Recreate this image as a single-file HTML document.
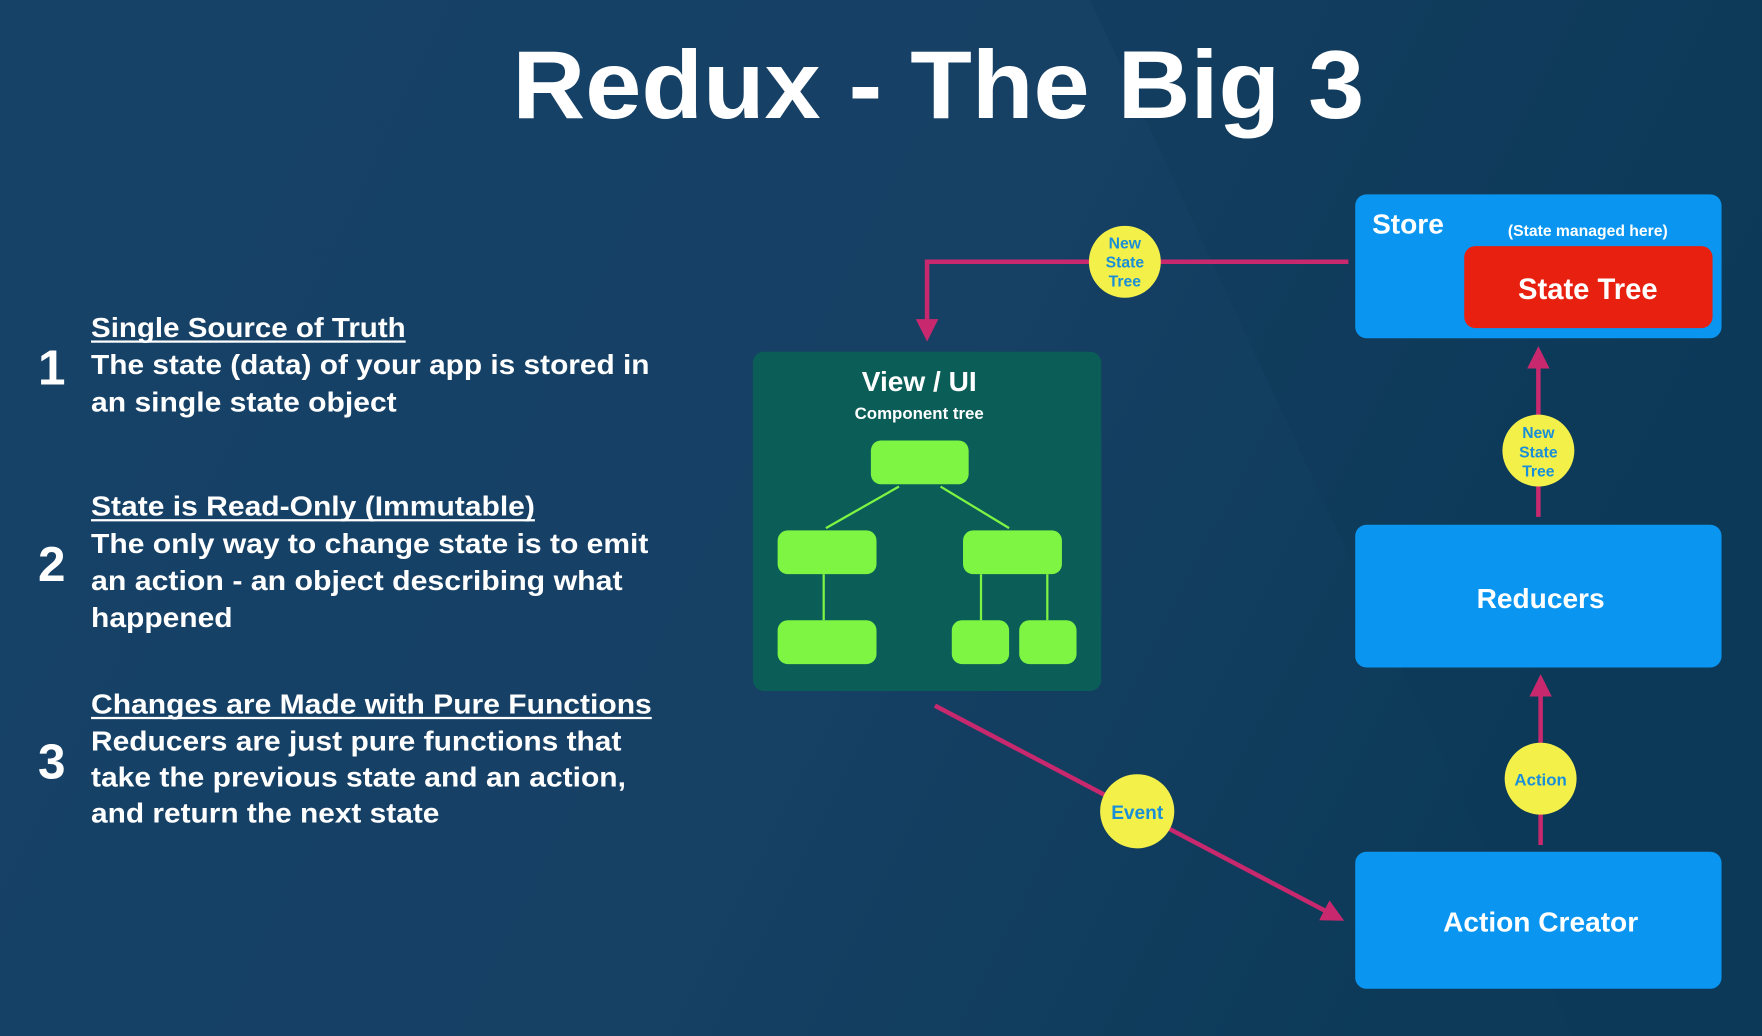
<!DOCTYPE html>
<html><head><meta charset="utf-8"><style>html,body{margin:0;padding:0;background:#163f60}svg{display:block}</style></head>
<body>
<svg width="1762" height="1036" viewBox="0 0 1568 922" preserveAspectRatio="none" xmlns="http://www.w3.org/2000/svg" font-family="'Liberation Sans', sans-serif" font-weight="bold">
<defs>
<linearGradient id="bg" x1="0" y1="0" x2="1" y2="0.3">
<stop offset="0" stop-color="#174268"/><stop offset="0.6" stop-color="#164064"/><stop offset="1" stop-color="#0c3a58"/>
</linearGradient>
<marker id="ah" viewBox="0 0 10 10" refX="2" refY="5" markerWidth="5" markerHeight="5" orient="auto"><path d="M0,0 L10,5 L0,10 z" fill="#c8296e"/></marker>
</defs>
<rect width="1568" height="922" fill="url(#bg)"/>
<polygon points="970,0 1568,0 1568,922 1400,922" fill="#0d3a58" opacity="0.35"/>
<text x="835" y="105" text-anchor="middle" font-size="86" fill="#fff" textLength="758" lengthAdjust="spacingAndGlyphs">Redux - The Big 3</text>

<g fill="#fff">
<text x="46" y="342" text-anchor="middle" font-size="44">1</text>
<text x="46" y="517" text-anchor="middle" font-size="44">2</text>
<text x="46" y="693" text-anchor="middle" font-size="44">3</text>
<g font-size="25">
<text x="81" y="300" textLength="280" lengthAdjust="spacingAndGlyphs">Single Source of Truth</text>
<text x="81" y="333" textLength="497" lengthAdjust="spacingAndGlyphs">The state (data) of your app is stored in</text>
<text x="81" y="366" textLength="272" lengthAdjust="spacingAndGlyphs">an single state object</text>
<text x="81" y="459" textLength="395" lengthAdjust="spacingAndGlyphs">State is Read-Only (Immutable)</text>
<text x="81" y="492" textLength="496" lengthAdjust="spacingAndGlyphs">The only way to change state is to emit</text>
<text x="81" y="525" textLength="473" lengthAdjust="spacingAndGlyphs">an action - an object describing what</text>
<text x="81" y="558" textLength="126" lengthAdjust="spacingAndGlyphs">happened</text>
<text x="81" y="635" textLength="499" lengthAdjust="spacingAndGlyphs">Changes are Made with Pure Functions</text>
<text x="81" y="668" textLength="472" lengthAdjust="spacingAndGlyphs">Reducers are just pure functions that</text>
<text x="81" y="700" textLength="476" lengthAdjust="spacingAndGlyphs">take the previous state and an action,</text>
<text x="81" y="732" textLength="310" lengthAdjust="spacingAndGlyphs">and return the next state</text>
</g>
<rect x="81" y="303" width="280" height="2"/>
<rect x="81" y="462" width="395" height="2"/>
<rect x="81" y="638" width="499" height="2"/>
</g>

<rect x="670" y="313" width="310" height="302" rx="10" fill="#0b5e57"/>
<text x="818" y="348" text-anchor="middle" font-size="25" fill="#fff">View / UI</text>
<text x="818" y="373" text-anchor="middle" font-size="15" fill="#fff">Component tree</text>
<g stroke="#7ef542" stroke-width="2">
<line x1="800" y1="433" x2="735" y2="470"/><line x1="837" y1="433" x2="898" y2="470"/>
<line x1="733" y1="511" x2="733" y2="552"/><line x1="873" y1="511" x2="873" y2="552"/><line x1="932" y1="511" x2="932" y2="552"/>
</g>
<g fill="#7ef542">
<rect x="775" y="392" width="87" height="39" rx="9"/>
<rect x="692" y="472" width="88" height="39" rx="9"/>
<rect x="857" y="472" width="88" height="39" rx="9"/>
<rect x="692" y="552" width="88" height="39" rx="9"/>
<rect x="847" y="552" width="51" height="39" rx="9"/>
<rect x="907" y="552" width="51" height="39" rx="9"/>
</g>

<rect x="1206" y="173" width="326" height="128" rx="10" fill="#0a96f0"/>
<text x="1221" y="208" font-size="25" fill="#fff">Store</text>
<text x="1413" y="210" text-anchor="middle" font-size="14" fill="#fff">(State managed here)</text>
<rect x="1303" y="219" width="221" height="73" rx="10" fill="#e8200f"/>
<text x="1413" y="266" text-anchor="middle" font-size="26" fill="#fff">State Tree</text>
<rect x="1206" y="467" width="326" height="127" rx="10" fill="#0a96f0"/>
<text x="1371" y="541" text-anchor="middle" font-size="25" fill="#fff">Reducers</text>
<rect x="1206" y="758" width="326" height="122" rx="10" fill="#0a96f0"/>
<text x="1371" y="829" text-anchor="middle" font-size="25" fill="#fff">Action Creator</text>

<g stroke="#c8296e" stroke-width="4" fill="none">
<polyline points="1200,233 825,233 825,288" marker-end="url(#ah)"/>
<line x1="1369" y1="460" x2="1369" y2="324" marker-end="url(#ah)"/>
<line x1="1371" y1="752" x2="1371" y2="616" marker-end="url(#ah)"/>
<line x1="832" y1="628" x2="1182" y2="812" marker-end="url(#ah)"/>
</g>
<g fill="#f4f04a">
<circle cx="1001" cy="233" r="32"/><circle cx="1369" cy="401" r="32"/>
<circle cx="1371" cy="693" r="32"/><circle cx="1012" cy="722" r="33"/>
</g>
<g fill="#1a8fd8" text-anchor="middle" font-size="14">
<text x="1001" y="221">New</text><text x="1001" y="238">State</text><text x="1001" y="255">Tree</text>
<text x="1369" y="390">New</text><text x="1369" y="407">State</text><text x="1369" y="424">Tree</text>
<text x="1371" y="699" font-size="15">Action</text>
<text x="1012" y="729" font-size="17">Event</text>
</g>
</svg>
</body></html>
